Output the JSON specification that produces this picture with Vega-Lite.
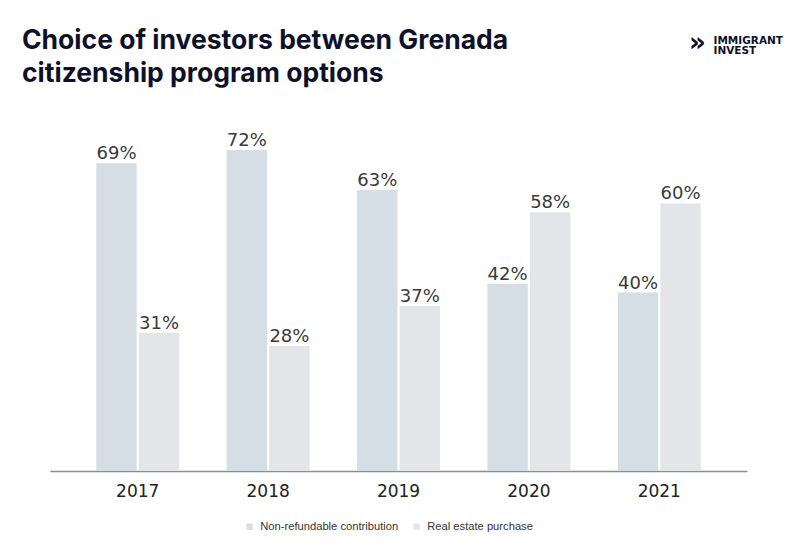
{
  "$schema": "https://vega.github.io/schema/vega-lite/v6.json",
  "autosize": "none",
  "width": 697,
  "height": 446,
  "padding": {"left": 50, "top": 25, "right": 54, "bottom": 80},
  "background": "white",
  "title": {
    "text": ["Choice of investors between Grenada", "citizenship program options"],
    "anchor": "start",
    "frame": "group",
    "orient": "top",
    "baseline": "top",
    "offset": -62,
    "dx": -28,
    "font": "Inter",
    "fontSize": 26.5,
    "fontWeight": 700,
    "lineHeight": 33,
    "color": "#0d1228"
  },
  "data": {
    "values": [
      {"year": "2017", "option": "Non-refundable contribution", "value": 0.69},
      {"year": "2017", "option": "Real estate purchase", "value": 0.31},
      {"year": "2018", "option": "Non-refundable contribution", "value": 0.72},
      {"year": "2018", "option": "Real estate purchase", "value": 0.28},
      {"year": "2019", "option": "Non-refundable contribution", "value": 0.63},
      {"year": "2019", "option": "Real estate purchase", "value": 0.37},
      {"year": "2020", "option": "Non-refundable contribution", "value": 0.42},
      {"year": "2020", "option": "Real estate purchase", "value": 0.58},
      {"year": "2021", "option": "Non-refundable contribution", "value": 0.40},
      {"year": "2021", "option": "Real estate purchase", "value": 0.60}
    ]
  },
  "encoding": {
    "x": {
      "field": "year",
      "type": "nominal",
      "scale": {"paddingInner": 0.364, "paddingOuter": 0.355},
      "axis": {
        "title": "»",
        "titleFont": "DejaVu Sans",
        "titleFontSize": 26,
        "titleFontWeight": "bold",
        "titleColor": "#0d1228",
        "titleX": 647,
        "titleY": -429,
        "titleAlign": "center",
        "titleBaseline": "middle",
        "labelAngle": 0,
        "labelFont": "DejaVu Sans",
        "labelFontSize": 17,
        "labelColor": "#222222",
        "labelPadding": 12,
        "ticks": false,
        "tickSize": 0,
        "domainColor": "#8c8c8c",
        "domainWidth": 1.6
      }
    },
    "xOffset": {"field": "option", "type": "nominal", "scale": {"paddingInner": 0.05}},
    "y": {
      "field": "value",
      "type": "quantitative",
      "scale": {"domain": [0, 1]},
      "axis": {
        "title": ["IMMIGRANT", "INVEST"],
        "titleAngle": 0,
        "titleX": 663,
        "titleY": 18,
        "titleAlign": "left",
        "titleBaseline": "alphabetic",
        "titleFont": "DejaVu Sans",
        "titleFontSize": 10.5,
        "titleFontWeight": "bold",
        "titleLineHeight": 10.5,
        "titleColor": "#0d1228",
        "labels": false,
        "ticks": false,
        "domain": false,
        "grid": false
      }
    }
  },
  "layer": [
    {
      "mark": {"type": "bar"},
      "encoding": {
        "color": {
          "field": "option",
          "type": "nominal",
          "scale": {"range": ["#d5dde5", "#e4e5e8"]},
          "legend": {
            "title": null,
            "orient": "none",
            "legendX": 194,
            "legendY": 496,
            "direction": "horizontal",
            "symbolType": "square",
            "symbolSize": 40,
            "symbolStrokeWidth": 0,
            "labelFont": "Liberation Sans",
            "labelFontSize": 11.2,
            "labelColor": "#333333",
            "labelOffset": 5,
            "columnPadding": 12
          }
        }
      }
    },
    {
      "mark": {
        "type": "text",
        "baseline": "alphabetic",
        "dy": -4,
        "font": "DejaVu Sans",
        "fontSize": 18,
        "color": "#3a3a3a"
      },
      "encoding": {
        "text": {"field": "value", "type": "quantitative", "format": ".0%"}
      }
    }
  ],
  "config": {"view": {"stroke": null}}
}
